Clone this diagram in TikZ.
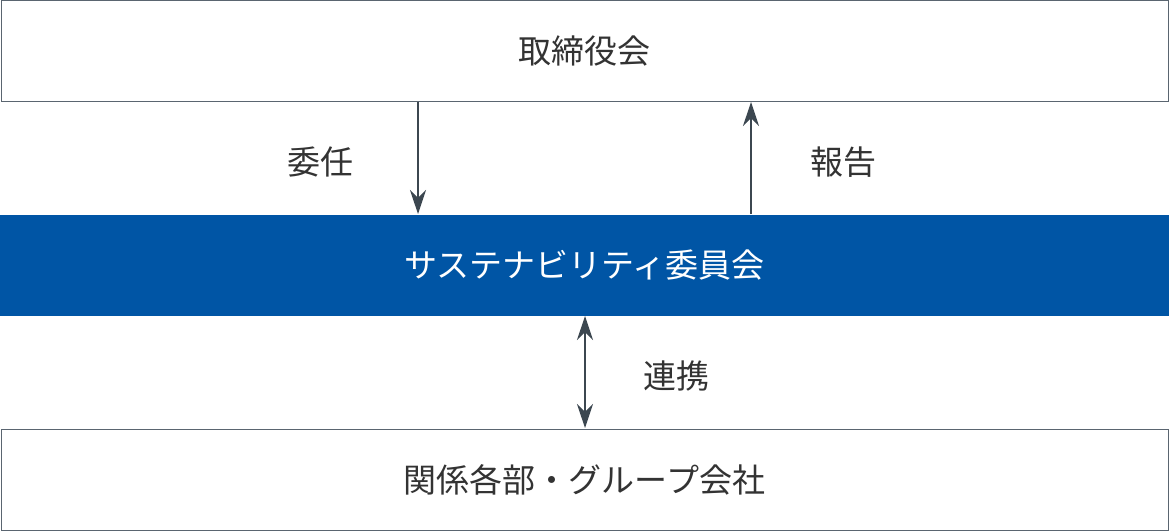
\documentclass[tikz,border=0pt]{standalone}
\usepackage{fontspec}
\newfontfamily\cjk{Noto Sans CJK JP}
\usetikzlibrary{arrows.meta}
\definecolor{bord}{HTML}{5A6570}
\definecolor{blu}{HTML}{0055A5}
\definecolor{arr}{HTML}{3C4750}
\begin{document}
\begin{tikzpicture}[x=1pt,y=-1pt,
 box/.style={draw=bord,line width=1pt,minimum width=1167pt,minimum height=101pt,inner sep=0pt,font=\cjk\fontsize{33}{38}\selectfont,text=black!80},
 lab/.style={font=\cjk\fontsize{33}{38}\selectfont,text=black!80},
 ar/.style={draw=arr,line width=1.2pt,-{Stealth[length=24pt,width=16pt]}}]
\useasboundingbox (0,0) rectangle (1169,532);
\node[box] (top) at (584.5,51.5) {取締役会};
\node[box,fill=blu,draw=none,minimum width=1169pt,text=white] (mid) at (584.5,265) {サステナビリティ委員会};
\node[box] (bot) at (584.5,479.5) {関係各部・グループ会社};
\coordinate (a1) at (418,102); \coordinate (a2) at (418,214);
\coordinate (b1) at (751,214); \coordinate (b2) at (751,102);
\coordinate (c1) at (585,316); \coordinate (c2) at (585,428);
\draw[ar] (a1) -- (a2);
\draw[ar] (b1) -- (b2);
\draw[ar,{Stealth[length=24pt,width=16pt]}-{Stealth[length=24pt,width=16pt]}] (c1) -- (c2);
\node[lab] (l1) at (320,162) {委任};
\node[lab] (l2) at (843,162) {報告};
\node[lab] (l3) at (676,376) {連携};
\end{tikzpicture}
\end{document}
